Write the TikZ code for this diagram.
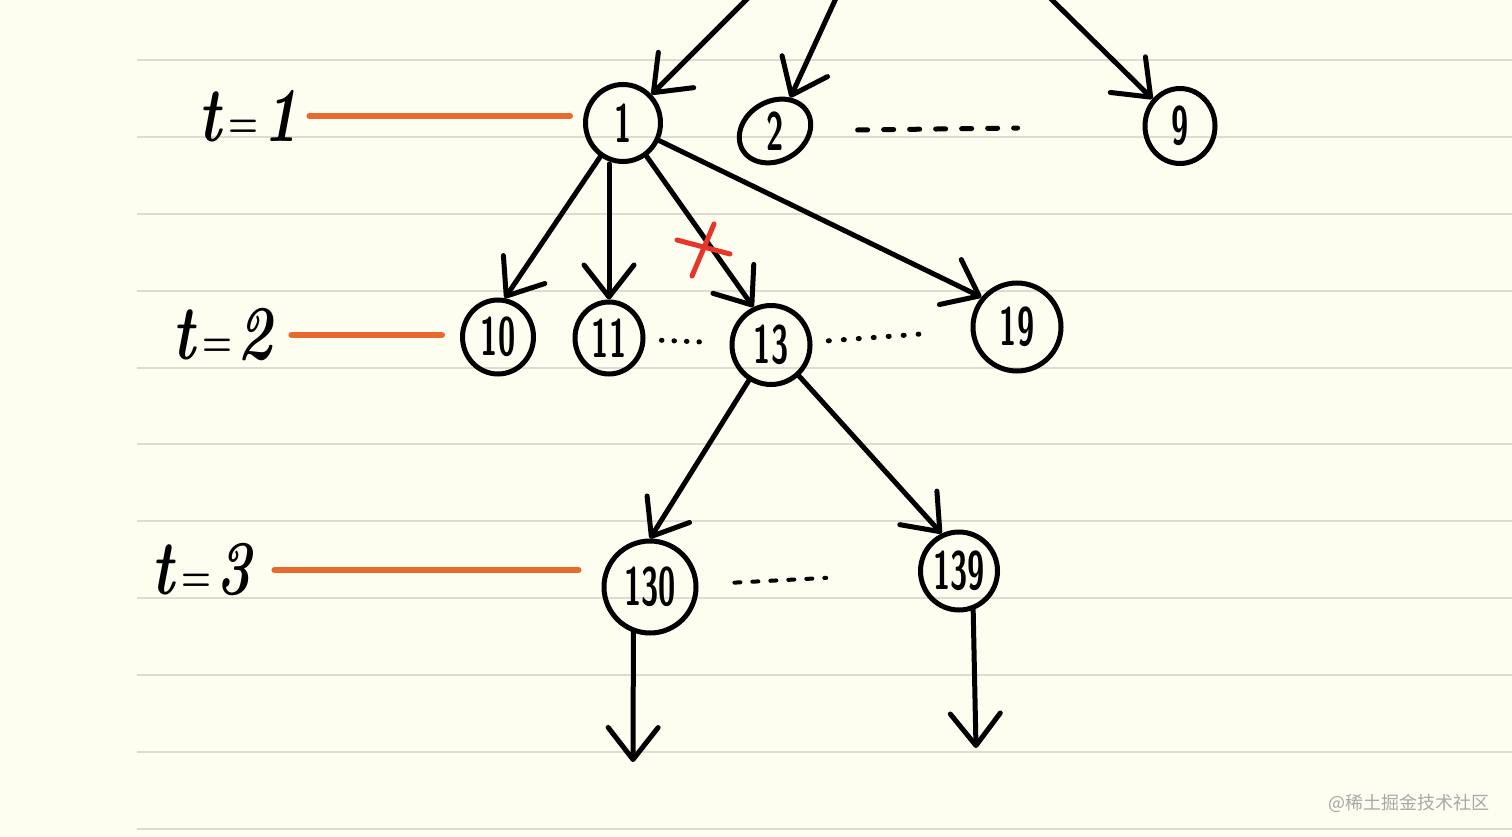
\documentclass[tikz,border=0pt]{standalone}
\usepackage{fontspec}
\newfontfamily\cjkfont{Noto Sans CJK SC}
\usetikzlibrary{arrows.meta,shapes.geometric,calc}
\definecolor{paper}{HTML}{FDFDF0}
\definecolor{rulecol}{HTML}{DCDCD2}
\definecolor{markcol}{HTML}{E86A2E}
\definecolor{crosscol}{HTML}{E8352A}
\definecolor{wmcol}{HTML}{A8A8A8}
\newcommand\hwnum[1]{\scalebox{0.58}[1]{\fontsize{54}{54}\selectfont\sffamily\bfseries #1}}
\newcommand\hwlab[1]{\scalebox{0.95}[1.25]{\fontsize{62}{62}\selectfont\bfseries\itshape t\kern8pt\raisebox{3pt}{\fontsize{36}{36}\selectfont\upshape =}\kern5pt #1}}
\begin{document}
\begin{tikzpicture}[x=1pt,y=-1pt,
  st/.style={draw, ellipse, line width=5pt, inner sep=0pt},
  edge/.style={line width=5pt, line cap=round, line join=round, -{Straight Barb[length=32pt,width=50pt,round]}},
  markline/.style={draw=markcol, line width=6pt, line cap=round},
  crossline/.style={draw=crosscol, line width=5pt, line cap=round},
  dotline/.style={line width=5pt, line cap=round}
]
\useasboundingbox (0,0) rectangle (1512,837);
\fill[paper] (0,0) rectangle (1512,837);
\foreach \y in {60,137,214,291,368,444,521,598,675,752,829}
  \draw[rulecol, line width=2.5pt] (137,\y) -- (1512,\y);

% nodes
\node[st, minimum width=75pt, minimum height=77pt] (n1) at (623,123) {\hwnum{1}};
\node[st, minimum width=75pt, minimum height=57pt, rotate=30] (n2) at (775,131) {\rotatebox{-30}{\hwnum{2}}};
\node[st, minimum width=70pt, minimum height=75pt] (n9) at (1180,126) {\hwnum{9}};
\node[st, minimum width=71pt, minimum height=74pt] (n10) at (498,337) {\hwnum{10}};
\node[st, minimum width=68pt, minimum height=72pt] (n11) at (609,338) {\hwnum{11}};
\node[st, minimum width=78pt, minimum height=79pt] (n13) at (771,345) {\hwnum{13}};
\node[st, minimum width=88pt, minimum height=88pt] (n19) at (1017,327) {\hwnum{19}};
\node[st, minimum width=92pt, minimum height=92pt] (n130) at (650,587) {\hwnum{130}};
\node[st, minimum width=77pt, minimum height=78pt] (n139) at (959,571) {\hwnum{139}};

% labels
\node (t1) at (248,116) {\hwlab{1}};
\node (t2) at (222,335) {\hwlab{2}};
\node (t3) at (201,570) {\hwlab{3}};

\draw[markline, shorten <=8pt, shorten >=13pt] (t1.east) -- (t1.east -| n1.west);
\draw[markline, shorten <=16pt, shorten >=18pt] (t2.east) -- (t2.east -| n10.west);
\draw[markline, shorten <=20pt, shorten >=23pt] (t3.east) -- (t3.east -| n130.west);

% free ends
\coordinate (top1) at (750,-4);
\coordinate (top2) at (837,-4);
\coordinate (top9) at (1048,-4);
\coordinate (e130) at (633,762);
\coordinate (e139) at (976,748);

% edges
\draw[edge] (top1) -- (n1);
\draw[edge] (top2) -- (n2);
\draw[edge] (top9) -- (n9);
\draw[edge] (n1) -- (n10.80);
\draw[edge] (n1.south -| n11.north) -- (n11.north);
\draw[edge] (n1) -- (n13.115);
\draw[edge] (n1) -- (n19.140);
\draw[edge] (n13) -- (n130.north);
\draw[edge] (n13) -- (n139.115);
\draw[edge] (n130.250) -- (e130);
\draw[edge] (n139.290) -- (e139);

% red cross
\coordinate (xa) at (677,240);
\coordinate (xb) at (730,254);
\coordinate (xc) at (714,224);
\coordinate (xd) at (692,276);
\draw[crossline] (xa) -- (xb);
\draw[crossline] (xc) -- (xd);

% dotted continuations
\draw[dotline, dash pattern=on 10pt off 16pt, shorten <=45pt, shorten >=125pt] (n2) -- (n9);
\draw[dotline, dash pattern=on 0.5pt off 12pt, shorten <=16pt, shorten >=25pt] (n11) -- (n13);
\draw[dotline, dash pattern=on 1pt off 14pt, shorten <=16pt, shorten >=52pt] (n13) -- (n19);
\draw[dotline, line width=4pt, dash pattern=on 6pt off 12pt, shorten <=36pt, shorten >=92pt] (n130) -- (n139);

% watermark
\node[text=wmcol, font=\cjkfont\fontsize{18}{18}\selectfont] (wm) at (1409,803) {@稀土掘金技术社区};
\end{tikzpicture}
\end{document}
